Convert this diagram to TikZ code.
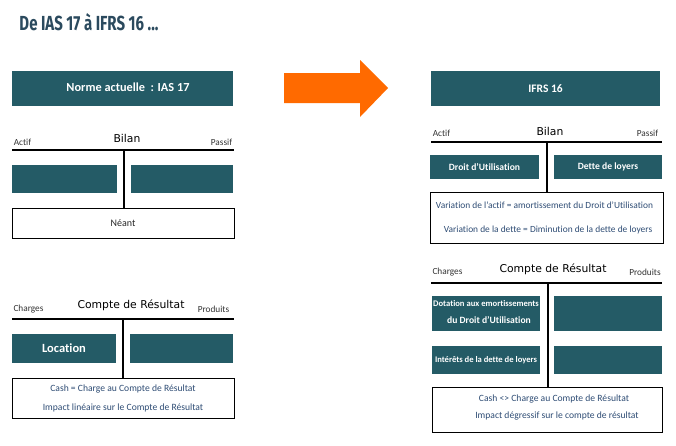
\documentclass[tikz,border=0pt]{standalone}
\usepackage{fontspec}
\setmainfont[Ligatures=NoCommon]{Carlito}
\newfontfamily\verdfont{DejaVu Sans}
\newfontfamily\titlefont{Fira Sans}
\usetikzlibrary{positioning}

\definecolor{petrole}{HTML}{245B66}
\definecolor{encre}{HTML}{2E4C74}
\definecolor{ardoise}{HTML}{2B4A5E}
\definecolor{flecheorange}{HTML}{FF6A00}

\tikzset{
  bloc/.style={fill=petrole, inner sep=0pt, text=white, font=\bfseries, align=center},
  cadre/.style={draw=black, line width=1pt, inner sep=0pt, text=encre, align=center},
  coin/.style={inner sep=0pt, font=\fontsize{9.3}{10}\selectfont, text=black!80},
  titrecompte/.style={inner sep=0pt, font=\verdfont\fontsize{10.8}{12}\selectfont},
  trait/.style={line width=2.2pt}
}

\begin{document}
\begin{tikzpicture}[x=1pt, y=-1pt]

\useasboundingbox (0, 0) rectangle (676, 445);

% titre
\draw (89, 22) node [inner sep=0pt, text=ardoise] (titre) {\resizebox{139pt}{17pt}{\titlefont\bfseries De IAS 17 à IFRS 16 ...}};

% norme actuelle
\draw (122.5, 88.5) node [bloc, minimum width=221pt, minimum height=35pt] (ias) {};
\draw (128, 87) node [inner sep=0pt, text=white, font=\bfseries\fontsize{12.3}{14}\selectfont] (iastexte) {Norme actuelle \ : IAS 17};

\draw (127, 138) node [titrecompte] (bilanA) {Bilan};
\draw (22.5, 142) node [coin] (actifA) {Actif};
\draw (221.5, 142) node [coin] (passifA) {Passif};
\draw [trait] (12, 150) -- (234, 150);
\draw [trait] (124, 150) -- (124, 208);
\draw (64.5, 179) node [bloc, minimum width=105pt, minimum height=28pt] (actifboxA) {};
\draw (182, 179) node [bloc, minimum width=102pt, minimum height=28pt] (passifboxA) {};
\draw (123, 223) node [cadre, minimum width=222pt, minimum height=30pt, text=black!85, font=\fontsize{10}{11}\selectfont] (neant) {N\'eant};

\draw (131, 305) node [titrecompte] (crA) {Compte de R\'esultat};
\draw (28.5, 309) node [coin] (chargesA) {Charges};
\draw (213.5, 309) node [coin] (produitsA) {Produits};
\draw [trait] (12, 319) -- (234, 319);
\draw [trait] (123, 319) -- (123, 378);
\draw (64, 348.5) node [bloc, minimum width=104pt, minimum height=29pt, font=\bfseries\fontsize{12.5}{14}\selectfont] (location) {Location};
\draw (181.5, 348.5) node [bloc, minimum width=103pt, minimum height=29pt] (produitboxA) {};
\draw (123, 398) node [cadre, minimum width=222pt, minimum height=40pt, font=\fontsize{9.6}{19}\selectfont] (cashA) {Cash = Charge au Compte de R\'esultat\\Impact lin\'eaire sur le Compte de R\'esultat};

% fleche
\fill [flecheorange] (284, 73) -- (360, 73) -- (360, 60) -- (388, 88) -- (360, 117) -- (360, 103) -- (284, 103) -- cycle;

% IFRS 16
\draw (545.5, 88.5) node [bloc, minimum width=229pt, minimum height=35pt, font=\bfseries\fontsize{11.5}{13}\selectfont] (ifrs) {IFRS 16};

\draw (550, 131) node [titrecompte] (bilanB) {Bilan};
\draw (441.5, 133) node [coin] (actifB) {Actif};
\draw (647.5, 133) node [coin] (passifB) {Passif};
\draw [trait] (431, 142) -- (662, 142);
\draw [trait] (547, 142) -- (547, 192);
\draw (484.5, 167) node [bloc, minimum width=109pt, minimum height=24pt, font=\bfseries\fontsize{9.6}{11}\selectfont] (droit) {Droit d’Utilisation};
\draw (608, 167) node [bloc, minimum width=108pt, minimum height=24pt, font=\bfseries\fontsize{9.6}{11}\selectfont] (dette) {Dette de loyers};
\draw (546.5, 217.5) node [cadre, minimum width=233pt, minimum height=51pt] (variation) {};
\draw (544.5, 205) node [inner sep=0pt, text=encre, font=\fontsize{9.4}{10}\selectfont] (varactif) {Variation de l’actif = amortissement du Droit d’Utilisation};
\draw (548, 230) node [inner sep=0pt, text=encre, font=\fontsize{9.4}{10}\selectfont] (vardette) {Variation de la dette = Diminution de la dette de loyers};

\draw (553, 269) node [titrecompte] (crB) {Compte de R\'esultat};
\draw (447.5, 272) node [coin] (chargesB) {Charges};
\draw (645, 272) node [coin] (produitsB) {Produits};
\draw [trait] (431, 283) -- (662, 283);
\draw [trait] (548, 283) -- (548, 387);
\draw (486, 313.5) node [bloc, minimum width=108pt, minimum height=35pt] (dotation) {};
\draw (486, 304) node [inner sep=0pt, text=white, font=\bfseries\fontsize{8.6}{9}\selectfont] (dotl1) {Dotation aux emortissements};
\draw (489, 320) node [inner sep=0pt, text=white, font=\bfseries\fontsize{9.6}{10}\selectfont] (dotl2) {du Droit d’Utilisation};
\draw (608, 313.5) node [bloc, minimum width=108pt, minimum height=35pt] (prodB1) {};
\draw (486, 360) node [bloc, minimum width=108pt, minimum height=28pt, font=\bfseries\fontsize{8.6}{9}\selectfont] (interets) {Intérêts de la dette de loyers};
\draw (608, 360) node [bloc, minimum width=108pt, minimum height=28pt] (prodB2) {};
\draw (547, 409.5) node [cadre, minimum width=230pt, minimum height=45pt] (cashB) {};
\draw (554, 399) node [inner sep=0pt, text=encre, font=\fontsize{9.6}{10}\selectfont] (cashl1) {Cash <> Charge au Compte de R\'esultat};
\draw (557, 416) node [inner sep=0pt, text=encre, font=\fontsize{9.6}{10}\selectfont] (cashl2) {Impact d\'egressif sur le compte de r\'esultat};

\end{tikzpicture}
\end{document}
